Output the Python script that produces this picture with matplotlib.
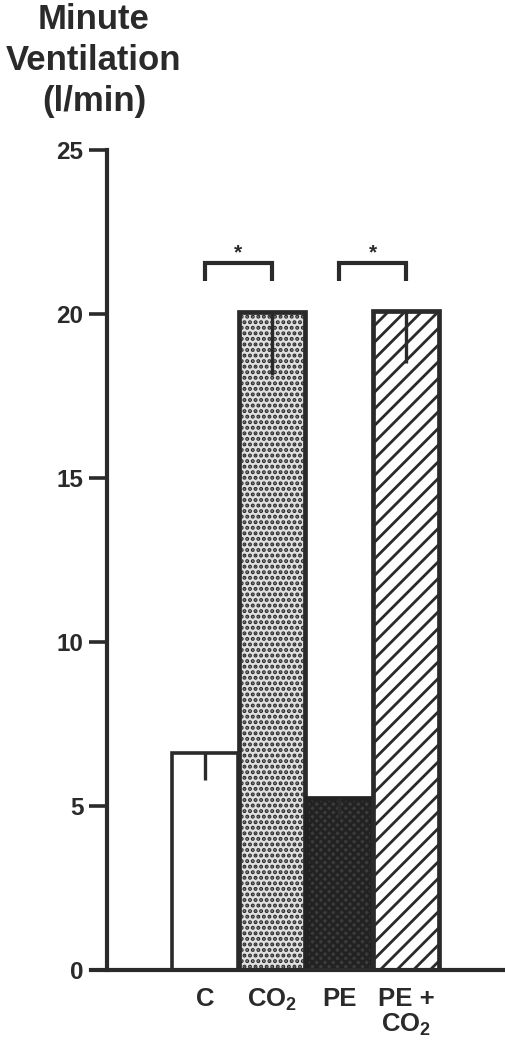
import numpy as np
import matplotlib
matplotlib.use('Agg')
import matplotlib.pyplot as plt

plt.rcParams['font.family'] = ['Liberation Sans', 'DejaVu Sans']
plt.rcParams['font.weight'] = 'bold'
plt.rcParams['mathtext.fontset'] = 'custom'
plt.rcParams['mathtext.rm'] = 'Liberation Sans:bold'
plt.rcParams['mathtext.bf'] = 'Liberation Sans:bold'
plt.rcParams['mathtext.default'] = 'bf'
plt.rcParams['hatch.linewidth'] = 2.0

ink = '#2a2a2a'

# data
groups = ['C', 'CO$_2$', 'PE', 'PE +\nCO$_2$']
means = [6.63, 20.05, 5.25, 20.1]
sem_low = [0.85, 1.9, 0.6, 1.6]
sig_pairs = [(0, 1), (2, 3)]

fig = plt.figure(figsize=(5.06, 10.48), dpi=100)
ax = fig.add_axes([107 / 506, 1 - 970 / 1048, 1 - 107 / 506, 820 / 1048])

x = np.arange(len(groups))
bars = ax.bar(x, means, width=0.985, align='center', zorder=2)
styles = [
    dict(facecolor='white', edgecolor=ink, linewidth=2.6, hatch=None),
    dict(facecolor='#e0e0e0', edgecolor=ink, linewidth=3.4, hatch='...'),
    dict(facecolor='#3c3c3c', edgecolor='#222222', linewidth=3.4, hatch='xxxx'),
    dict(facecolor='white', edgecolor=ink, linewidth=3.4, hatch='//'),
]
for b, st in zip(bars, styles):
    b.set_facecolor(st['facecolor'])
    b.set_edgecolor(st['edgecolor'])
    b.set_linewidth(st['linewidth'])
    if st['hatch']:
        b.set_hatch(st['hatch'])

ax.errorbar(x, means, yerr=[sem_low, np.zeros(len(x))], fmt='none',
            ecolor=ink, elinewidth=2.4, capsize=0, zorder=3)

# significance brackets
for a, b in sig_pairs:
    ax.plot([a, a, b, b], [21.0, 21.55, 21.55, 21.0], color=ink, lw=3,
            solid_capstyle='butt', solid_joinstyle='miter', clip_on=False)
    ax.text((a + b) / 2, 21.85, '*', ha='center', va='center',
            fontsize=15, color=ink)

ax.set_xlim(-1.46, 4.49)
ax.set_ylim(0, 25)
ax.set_yticks([0, 5, 10, 15, 20, 25])
ax.set_xticks(x)
ax.set_xticklabels(groups, fontsize=18.5, color=ink, linespacing=1.05)
ax.tick_params(axis='x', length=0, pad=12)
ax.tick_params(axis='y', length=13, width=2.6, color=ink, pad=4,
               labelsize=17.5, labelcolor=ink)
for lab in ax.get_xticklabels() + ax.get_yticklabels():
    lab.set_fontweight('bold')

for s in ['top', 'right']:
    ax.spines[s].set_visible(False)
ax.spines['left'].set_linewidth(3)
ax.spines['left'].set_color(ink)
ax.spines['bottom'].set_linewidth(3)
ax.spines['bottom'].set_color(ink)
ax.spines['bottom'].set_bounds(-1.7, 4.49)
ax.spines['bottom'].set_clip_on(False)
ax.patch.set_alpha(0)

fig.text(94 / 506, 1 - 3 / 1048, 'Minute\nVentilation\n(l/min)', ha='center',
         va='top', fontsize=25, fontweight='bold', color=ink, linespacing=1.3)

fig.savefig('out.png', dpi=100)
